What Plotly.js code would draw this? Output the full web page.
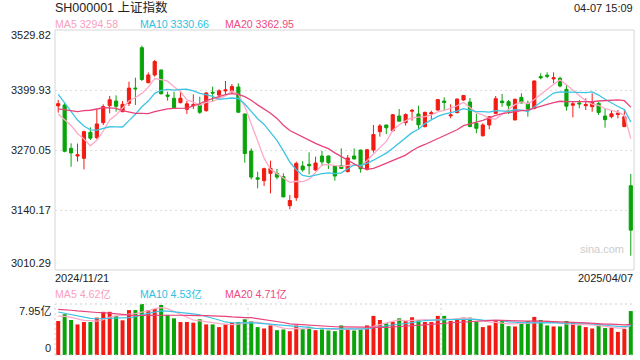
<!DOCTYPE html>
<html>
<head>
<meta charset="utf-8">
<script src="https://cdn.plot.ly/plotly-3.0.1.min.js"></script>
<style>
html,body{margin:0;padding:0;background:#fff;}
#chart{width:640px;height:360px;}
</style>
</head>
<body>
<div id="chart"></div>
<script>
// ---------- data ----------
const dates = [
'2024-11-21','2024-11-22','2024-11-25','2024-11-26','2024-11-27','2024-11-28','2024-11-29',
'2024-12-02','2024-12-03','2024-12-04','2024-12-05','2024-12-06','2024-12-09','2024-12-10','2024-12-11','2024-12-12','2024-12-13',
'2024-12-16','2024-12-17','2024-12-18','2024-12-19','2024-12-20','2024-12-23','2024-12-24','2024-12-25','2024-12-26','2024-12-27',
'2024-12-30','2024-12-31',
'2025-01-02','2025-01-03','2025-01-06','2025-01-07','2025-01-08','2025-01-09','2025-01-10','2025-01-13','2025-01-14','2025-01-15',
'2025-01-16','2025-01-17','2025-01-20','2025-01-21','2025-01-22','2025-01-23','2025-01-24','2025-01-27',
'2025-02-05','2025-02-06','2025-02-07','2025-02-10','2025-02-11','2025-02-12','2025-02-13','2025-02-14','2025-02-17','2025-02-18',
'2025-02-19','2025-02-20','2025-02-21','2025-02-24','2025-02-25','2025-02-26','2025-02-27','2025-02-28',
'2025-03-03','2025-03-04','2025-03-05','2025-03-06','2025-03-07','2025-03-10','2025-03-11','2025-03-12','2025-03-13','2025-03-14',
'2025-03-17','2025-03-18','2025-03-19','2025-03-20','2025-03-21','2025-03-24','2025-03-25','2025-03-26','2025-03-27','2025-03-28',
'2025-03-31','2025-04-01','2025-04-02','2025-04-03','2025-04-07'];

const opens = [
3365.5,3367.5,3273.6,3257.0,3252.0,3308.3,3296.7,3329.2,3366.0,3376.1,
3353.0,3371.0,3404.0,3491.6,3415.8,3432.4,3443.2,3389.1,3381.9,3372.5,
3358.0,3366.0,3367.5,3355.2,3395.0,3389.0,3398.0,3396.3,3406.4,3348.0,
3267.9,3210.0,3203.6,3219.5,3219.5,3212.3,3149.5,3166.9,3235.4,3239.0,
3226.8,3257.0,3257.1,3235.4,3236.0,3223.1,3257.1,3270.0,3228.2,3270.0,
3309.7,3324.2,3311.9,3343.6,3329.2,3354.0,3348.0,3320.6,3348.0,3356.6,
3376.0,3344.0,3350.9,3378.3,3374.0,3327.8,3301.1,3324.2,3349.4,3376.0,
3374.7,3335.0,3384.0,3371.0,3360.3,3429.0,3432.0,3424.0,3425.2,3401.4,
3367.0,3372.0,3366.0,3363.8,3371.0,3343.6,3342.2,3347.0,3320.6,3192.8];

const highs = [
3378.3,3372.5,3284.5,3284.0,3311.9,3319.1,3358.8,3368.9,3387.0,3388.4,
3376.0,3418.0,3426.6,3495.9,3438.0,3464.9,3444.0,3396.3,3396.3,3396.3,
3376.0,3390.5,3385.5,3395.0,3407.1,3401.4,3419.4,3412.9,3414.4,3349.0,
3273.6,3223.1,3231.8,3246.9,3228.9,3219.5,3172.6,3244.8,3246.2,3265.0,
3255.6,3267.9,3258.0,3236.0,3273.7,3259.2,3273.6,3270.5,3271.5,3324.2,
3326.3,3324.5,3348.0,3358.8,3349.4,3358.8,3366.0,3353.0,3355.2,3380.4,
3384.0,3368.9,3382.0,3389.1,3382.6,3348.0,3327.8,3343.6,3386.9,3391.3,
3378.3,3381.0,3392.7,3376.8,3420.1,3436.0,3438.2,3438.2,3428.8,3410.8,
3374.7,3378.3,3381.9,3392.7,3374.0,3360.3,3356.6,3356.6,3358.8,3218.1];

const lows = [
3350.9,3265.0,3233.9,3245.0,3228.2,3291.7,3293.9,3324.2,3349.4,3353.0,
3352.0,3365.3,3367.5,3419.4,3414.4,3428.8,3390.0,3376.8,3360.2,3371.0,
3348.0,3358.8,3348.0,3353.0,3376.1,3381.9,3389.0,3392.7,3350.8,3242.6,
3206.5,3187.0,3192.1,3176.2,3206.5,3168.0,3141.6,3160.0,3223.0,3217.4,
3225.0,3235.4,3228.9,3203.6,3228.9,3221.7,3250.0,3221.0,3225.3,3264.3,
3298.9,3304.7,3309.7,3332.0,3322.7,3333.5,3314.8,3319.1,3337.1,3355.2,
3356.6,3338.6,3349.4,3376.8,3319.1,3306.1,3298.9,3314.8,3348.0,3363.8,
3348.0,3335.0,3371.1,3342.2,3358.0,3423.0,3425.2,3414.4,3405.7,3355.2,
3340.8,3360.3,3356.6,3353.0,3345.8,3318.4,3338.6,3338.6,3320.0,3041.3];

const closes = [
3370.40,3267.19,3263.76,3259.76,3309.78,3295.70,3326.46,3363.98,3378.81,3364.65,
3368.86,3404.08,3402.53,3422.66,3432.49,3461.50,3391.88,3386.33,3361.49,3382.21,
3370.03,3368.07,3351.63,3393.53,3393.35,3398.08,3400.14,3407.33,3351.76,3262.56,
3211.43,3206.92,3229.64,3230.17,3211.39,3168.52,3160.76,3240.94,3227.12,3236.03,
3241.82,3244.38,3242.62,3213.62,3230.16,3252.63,3250.60,3229.49,3270.66,3303.67,
3322.17,3318.06,3346.39,3332.48,3346.72,3355.83,3324.49,3351.54,3350.78,3379.11,
3373.03,3346.04,3380.21,3388.06,3320.90,3316.93,3324.21,3341.96,3381.10,3372.55,
3366.16,3379.83,3371.92,3358.73,3419.56,3426.43,3429.76,3426.35,3408.49,3364.83,
3370.03,3369.98,3368.70,3373.75,3351.31,3335.75,3348.44,3350.13,3342.01,3096.58];

// 19 sessions before the first visible day (feed the moving averages only)
const prevCloses = [3299.70,3322.20,3286.41,3266.24,3279.82,3272.01,3310.21,3386.99,3383.81,3470.07,
3452.30,3470.66,3421.97,3439.28,3379.84,3330.73,3323.85,3346.01,3367.99];

// volume, 亿
const volumes = [
5.30,6.36,5.46,4.77,5.14,5.14,5.83,6.73,6.73,6.10,
5.41,7.00,7.00,7.95,7.00,7.16,7.79,6.25,5.72,5.14,
5.14,5.04,5.57,4.77,4.77,4.35,4.77,5.04,5.14,5.57,
5.30,4.35,4.13,4.61,3.87,3.98,3.71,4.61,4.08,4.40,
3.87,3.98,3.82,3.71,4.61,3.98,3.82,3.98,4.61,6.10,
5.46,4.93,5.14,5.72,5.30,5.88,5.46,5.14,5.14,6.10,
6.10,5.30,5.46,5.83,5.83,5.14,4.35,4.61,5.46,5.30,
4.50,4.45,5.14,5.30,5.94,5.46,4.61,4.45,4.45,5.30,
5.04,4.61,4.35,4.13,4.77,4.20,4.30,3.60,4.05,6.85];
const prevVolumes = [6.8,7.5,6.9,7.0,7.4,6.6,7.2,8.4,8.0,9.2,8.3,7.8,7.0,6.7,6.9,6.5,6.3,6.0,6.2];

const maPeriods = [5, 10, 20];
const maNames = ['MA5', 'MA10', 'MA20'];
const maPriceHeader = ['3294.58', '3330.66', '3362.95'];
const maVolHeader = ['4.62亿', '4.53亿', '4.71亿'];

const priceTickVals = [3529.82, 3399.93, 3270.05, 3140.17, 3010.29];
const priceTickText = ['3529.82', '3399.93', '3270.05', '3140.17', '3010.29'];
const volTickVals = [7.95, 0];
const volTickText = ['7.95亿', '0'];
const dateLabels = ['2024/11/21', '2025/04/07'];
const titleText = 'SH000001 上证指数';
const timeText = '04-07 15:09';

// ---------- styles ----------
const RED = '#f21b12', GREEN = '#0aa30a';
const maLineColors = ['#ffa9c6', '#3dc4e4', '#e8437b'];
const maTextColors = ['#f7a0bf', '#2fbfe0', '#ee4a7e'];
const FONT = 'Arial, "Liberation Sans", "Noto Sans CJK SC", sans-serif';

function movingAvg(hist, vals, n) {
  const all = hist.concat(vals);
  const off = hist.length;
  return vals.map((_, i) => {
    let s = 0;
    for (let k = 0; k < n; k++) s += all[off + i - k];
    return s / n;
  });
}

// plot geometry (px)
const L = 55, R = 634, T = 30, B = 355;
const W = R - L, H = B - T;
const ax = px => (px - L) / W;
const ay = py => (B - py) / H;
const mainDomain = [ay(270), 1];
const volDomain = [0, ay(304)];

const traces = [];
traces.push({
  type: 'candlestick', x: dates, open: opens, high: highs, low: lows, close: closes,
  xaxis: 'x', yaxis: 'y',
  increasing: {line: {color: RED, width: 1}, fillcolor: RED},
  decreasing: {line: {color: GREEN, width: 1}, fillcolor: GREEN},
  whiskerwidth: 0, hoverinfo: 'skip', showlegend: false
});
maPeriods.forEach((n, k) => {
  traces.push({
    type: 'scatter', mode: 'lines', x: dates, y: movingAvg(prevCloses, closes, n),
    xaxis: 'x', yaxis: 'y', line: {color: maLineColors[k], width: 1.3},
    hoverinfo: 'skip', showlegend: false
  });
});
traces.push({
  type: 'bar', x: dates, y: volumes, xaxis: 'x', yaxis: 'y2', width: 0.62,
  marker: {color: closes.map((c, i) => c >= opens[i] ? RED : GREEN), line: {width: 0}},
  hoverinfo: 'skip', showlegend: false
});
maPeriods.forEach((n, k) => {
  traces.push({
    type: 'scatter', mode: 'lines', x: dates, y: movingAvg(prevVolumes, volumes, n),
    xaxis: 'x', yaxis: 'y2', line: {color: maLineColors[k], width: 1.2},
    hoverinfo: 'skip', showlegend: false
  });
});

const ann = [];
function txt(text, x, y, xanchor, size, color, extra) {
  ann.push(Object.assign({text: text, xref: 'paper', yref: 'paper', x: ax(x), y: ay(y),
    xanchor: xanchor, yanchor: 'middle', showarrow: false, borderpad: 0,
    font: {family: FONT, size: size, color: color}}, extra || {}));
}
txt(titleText, 54, 8, 'left', 12.5, '#222');
txt(timeText, 634, 8, 'right', 11, '#222');
const legendX = [54, 139, 224];
maNames.forEach((nm, k) => {
  txt(nm + ' ' + maPriceHeader[k], legendX[k], 24, 'left', 10.6, maTextColors[k]);
  txt(nm + ' ' + maVolHeader[k], legendX[k], 294, 'left', 10.6, maTextColors[k]);
});
priceTickVals.forEach((v, i) => {
  const shift = i === 0 ? -4.5 : (i === priceTickVals.length - 1 ? 7 : 0);
  ann.push({text: priceTickText[i], xref: 'paper', yref: 'y', x: ax(52), y: v, yshift: shift,
    xanchor: 'right', yanchor: 'middle', showarrow: false, borderpad: 0,
    font: {family: FONT, size: 11, color: '#222'}});
});
volTickVals.forEach((v, i) => {
  const shift = i === 0 ? -7 : 7;
  ann.push({text: volTickText[i], xref: 'paper', yref: 'y2', x: ax(52), y: v, yshift: shift,
    xanchor: 'right', yanchor: 'middle', showarrow: false, borderpad: 0,
    font: {family: FONT, size: 11, color: '#222'}});
});
txt(dateLabels[0], 54, 278, 'left', 11, '#222');
txt(dateLabels[1], 634, 278, 'right', 11, '#222');
txt('sina.com', 602, 249, 'center', 11, '#cdcdcd');

const dotted = {color: '#cfcfcf', width: 1, dash: '2px,3px'};
const shapes = [
  {type: 'rect', xref: 'paper', yref: 'y domain', x0: 0, x1: 1, y0: 0, y1: 1,
   line: {color: '#d6d6d6', width: 1}, layer: 'above'},
  {type: 'line', xref: 'paper', yref: 'y2 domain', x0: 0, x1: 1, y0: 1, y1: 1, line: dotted},
  {type: 'line', xref: 'paper', yref: 'y2 domain', x0: 0, x1: 1, y0: 0, y1: 0, line: dotted},
  {type: 'line', xref: 'paper', yref: 'y2 domain', x0: 0, x1: 0, y0: 0, y1: 1, line: dotted},
  {type: 'line', xref: 'paper', yref: 'y2 domain', x0: 1/3, x1: 1/3, y0: 0, y1: 1, line: dotted, layer: 'below'},
  {type: 'line', xref: 'paper', yref: 'y2 domain', x0: 2/3, x1: 2/3, y0: 0, y1: 1, line: dotted, layer: 'below'}
];

const layout = {
  width: 640, height: 360,
  margin: {l: L, r: 640 - R, t: T, b: 360 - B, pad: 0},
  paper_bgcolor: '#fff', plot_bgcolor: '#fff',
  showlegend: false, bargap: 0.3,
  xaxis: {type: 'category', range: [-0.5, dates.length - 0.5], showgrid: false, zeroline: false,
    showticklabels: false, ticks: '', showline: false, rangeslider: {visible: false}, fixedrange: true, anchor: 'y2'},
  yaxis: {domain: mainDomain, range: [priceTickVals[4], priceTickVals[0]],
    tickvals: priceTickVals.slice(1, 4), showticklabels: false, ticks: '',
    showgrid: true, gridcolor: '#dedede', griddash: '2px,3px', gridwidth: 1,
    zeroline: false, showline: false, fixedrange: true},
  yaxis2: {domain: volDomain, range: [0, 7.95], showgrid: false, showticklabels: false,
    zeroline: false, showline: false, ticks: '', fixedrange: true},
  annotations: ann, shapes: shapes
};

Plotly.newPlot('chart', traces, layout, {displayModeBar: false, staticPlot: true});
</script>
</body>
</html>
